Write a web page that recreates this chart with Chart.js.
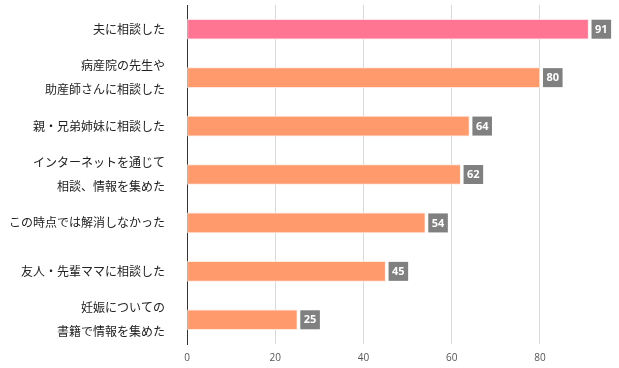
<!DOCTYPE html>
<html>
<head>
<meta charset="utf-8">
<script src="https://cdn.jsdelivr.net/npm/chart.js@4/dist/chart.umd.min.js"></script>
<style>
  html, body { margin:0; padding:0; background:#fff; }
  #wrap { width:619px; height:368px; }
</style>
</head>
<body>
<div id="wrap"><canvas id="chart" width="619" height="368"></canvas></div>
<script>
// categories (multi-line labels as arrays)
const categories = [
  "夫に相談した",
  ["病産院の先生や", "助産師さんに相談した"],
  "親・兄弟姉妹に相談した",
  ["インターネットを通じて", "相談、情報を集めた"],
  "この時点では解消しなかった",
  "友人・先輩ママに相談した",
  ["妊娠についての", "書籍で情報を集めた"],
];
const values = [91, 80, 64, 62, 54, 45, 25];
const xTicks = [0, 20, 40, 60, 80];

const PINK = "#ff7592", ORANGE = "#ff9a6c";
const barColors = values.map((v, i) => i === 0 ? PINK : ORANGE);
const borderColors = values.map((v, i) => i === 0 ? "#ffe3e9" : "#ffe9de");

// gray boxes with the value, just right of each bar
const valueBoxes = {
  id: "valueBoxes",
  afterDatasetsDraw(chart){
    const { ctx } = chart;
    const meta = chart.getDatasetMeta(0);
    ctx.save();
    ctx.font = "bold 11px 'Open Sans', 'DejaVu Sans', sans-serif";
    ctx.textBaseline = "middle";
    ctx.textAlign = "left";
    meta.data.forEach((bar, i) => {
      const txt = String(values[i]);
      const w = ctx.measureText(txt).width + 7;
      const h = 19;
      const x = bar.x + 3, y = bar.y - h / 2;
      ctx.fillStyle = "#808080";
      ctx.fillRect(x, y, w, h);
      ctx.fillStyle = "#fff";
      ctx.fillText(txt, x + 3.5, bar.y + 0.5);
    });
    ctx.restore();
  }
};

new Chart(document.getElementById("chart"), {
  type: "bar",
  data: {
    labels: categories,
    datasets: [{
      data: values,
      backgroundColor: barColors,
      borderColor: borderColors,
      borderWidth: 1,
      borderSkipped: false,
      barThickness: 20,
    }],
  },
  options: {
    indexAxis: "y",
    responsive: false,
    animation: false,
    layout: { padding: { top: 5, right: 4, bottom: 0, left: 0 } },
    plugins: { legend: { display: false }, tooltip: { enabled: false } },
    scales: {
      x: {
        min: 0, max: 97,
        afterBuildTicks: s => { s.ticks = xTicks.map(v => ({ value: v })); },
        afterFit: s => { s.height = 24; s.paddingLeft = 0; s.paddingRight = 0; },
        grid: { color: "#d9d9d9", drawTicks: false },
        border: { display: false },
        ticks: { padding: 8, color: "#555", font: { size: 10, family: "'Open Sans', sans-serif" } },
      },
      y: {
        afterFit: s => { s.width = 187; s.paddingTop = 0; s.paddingBottom = 0; },
        grid: { display: false },
        border: { display: true, color: "#333", width: 1 },
        ticks: {
          autoSkip: false,
          padding: 14, color: "#222",
          font: { size: 12, family: "'Noto Sans CJK JP', sans-serif", lineHeight: 2 },
        },
      },
    },
  },
  plugins: [valueBoxes],
});
</script>
</body>
</html>
